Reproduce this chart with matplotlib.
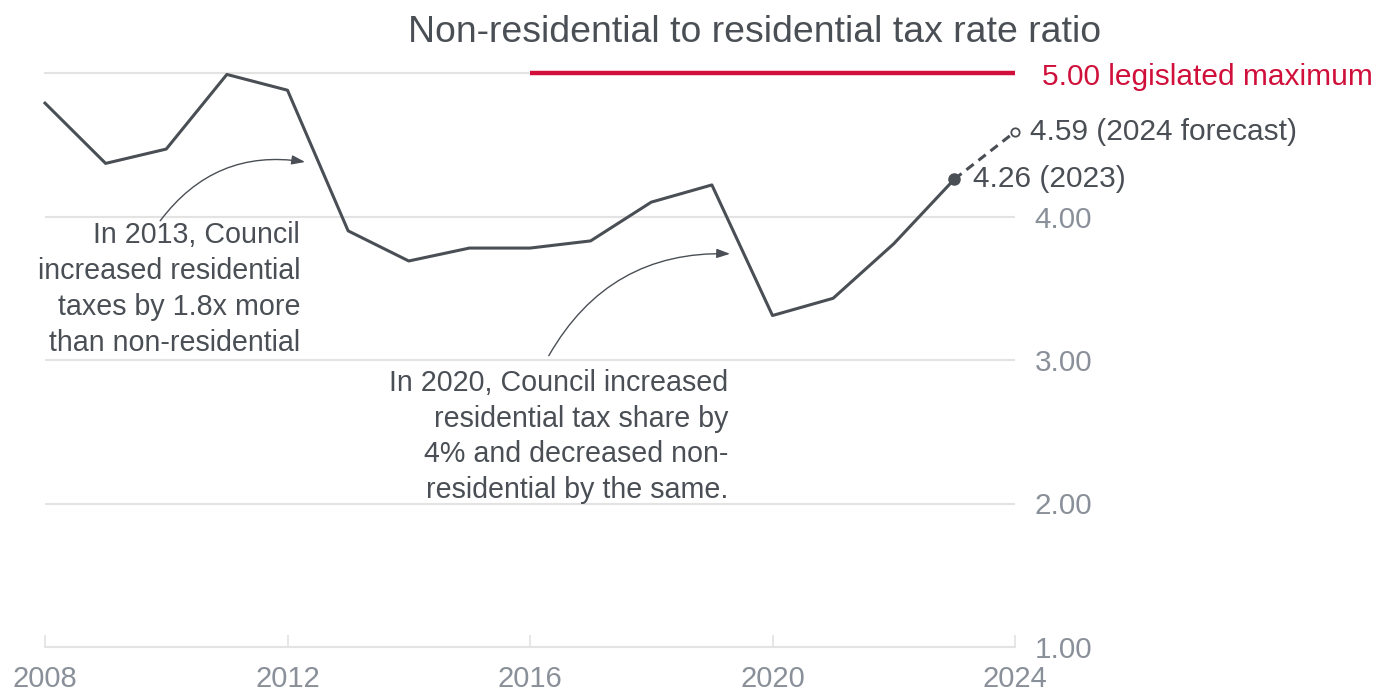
import matplotlib.pyplot as plt

plt.rcParams['font.family'] = ['Liberation Sans', 'DejaVu Sans']

# data
years = [2008, 2009, 2010, 2011, 2012, 2013, 2014, 2015, 2016,
         2017, 2018, 2019, 2020, 2021, 2022, 2023]
ratio = [4.79, 4.37, 4.47, 4.99, 4.88, 3.90, 3.69, 3.78, 3.78,
         3.83, 4.10, 4.22, 3.31, 3.43, 3.81, 4.26]
forecast_year = 2024
forecast_value = 4.59
legal_max = 5.00
xticks = [2008, 2012, 2016, 2020, 2024]
yticks = [1, 2, 3, 4]

note_2013 = 'In 2013, Council\nincreased residential\ntaxes by 1.8x more\nthan non-residential'
note_2020 = 'In 2020, Council increased\nresidential tax share by\n4% and decreased non-\nresidential by the same.'

dark = '#4a4f55'
grey = '#8a9099'
red = '#d0103a'
grid = '#e3e3e3'

fig = plt.figure(figsize=(13.75, 6.94), dpi=100)
ax = fig.add_axes([45 / 1375, 1 - 647 / 694, 970 / 1375, 574 / 694])
ax.set_xlim(2008, 2024)
ax.set_ylim(1, 5)

# horizontal grid lines
for v in [2, 3, 4]:
    ax.axhline(v, color=grid, lw=1.5, zorder=0)
ax.plot([2008, 2016], [legal_max, legal_max], color=grid, lw=1.5, zorder=0, clip_on=False)
ax.plot([2016, 2024], [legal_max, legal_max], color=red, lw=3.2, zorder=1, clip_on=False,
        solid_capstyle='butt')
ax.text(2024.45, legal_max - 0.03, '5.00 legislated maximum', color=red, fontsize=21.5,
        va='center', ha='left')

# main series
ax.plot(years, ratio, color=dark, lw=2.2, zorder=3, clip_on=False)
ax.plot([years[-1], forecast_year], [ratio[-1], forecast_value], color=dark, lw=2.2,
        ls=(0, (3, 2)), zorder=3, clip_on=False)
ax.plot(years[-1], ratio[-1], 'o', color=dark, ms=8, zorder=4, clip_on=False)
ax.plot(forecast_year, forecast_value, 'o', mfc='white', mec=dark, mew=1.3, ms=6,
        zorder=4, clip_on=False)
ax.text(years[-1] + 0.3, ratio[-1], '%.2f (%d)' % (ratio[-1], years[-1]), color=dark,
        fontsize=21.5, va='center', ha='left')
ax.text(forecast_year + 0.25, forecast_value, '%.2f (%d forecast)' % (forecast_value, forecast_year),
        color=dark, fontsize=21.5, va='center', ha='left')

# annotations
ax.text(2012.21, 3.495, note_2013, fontsize=20.6, color=dark, ha='right', va='center',
        linespacing=1.36)
ax.annotate('', xy=(2012.29, 4.38), xytext=(2009.9, 3.97),
            arrowprops=dict(arrowstyle='-|>,head_length=0.8,head_width=0.28', color=dark, lw=1,
                            connectionstyle='arc3,rad=-0.3', shrinkA=0, shrinkB=0))
ax.text(2019.27, 2.467, note_2020, fontsize=20.6, color=dark, ha='right', va='center',
        linespacing=1.36)
ax.annotate('', xy=(2019.3, 3.74), xytext=(2016.31, 3.03),
            arrowprops=dict(arrowstyle='-|>,head_length=0.8,head_width=0.28', color=dark, lw=1,
                            connectionstyle='arc3,rad=-0.3', shrinkA=0, shrinkB=0))

# axes styling
for s in ['top', 'left', 'right']:
    ax.spines[s].set_visible(False)
ax.spines['bottom'].set_color(grid)
ax.spines['bottom'].set_linewidth(1.5)
ax.set_xticks(xticks)
ax.set_xticklabels([str(x) for x in xticks])
ax.tick_params(axis='x', direction='in', length=9, width=1.2, color=grid,
               labelsize=21, labelcolor=grey, pad=13)
ax.yaxis.tick_right()
ax.set_yticks(yticks)
ax.set_yticklabels(['%.2f' % v for v in yticks])
ax.tick_params(axis='y', length=0, labelsize=21.3, labelcolor=grey, pad=14)

fig.text(755 / 1375, 1 - 32 / 694, 'Non-residential to residential tax rate ratio',
         fontsize=26.9, color=dark, ha='center', va='center')

fig.savefig('out.png', dpi=100)
